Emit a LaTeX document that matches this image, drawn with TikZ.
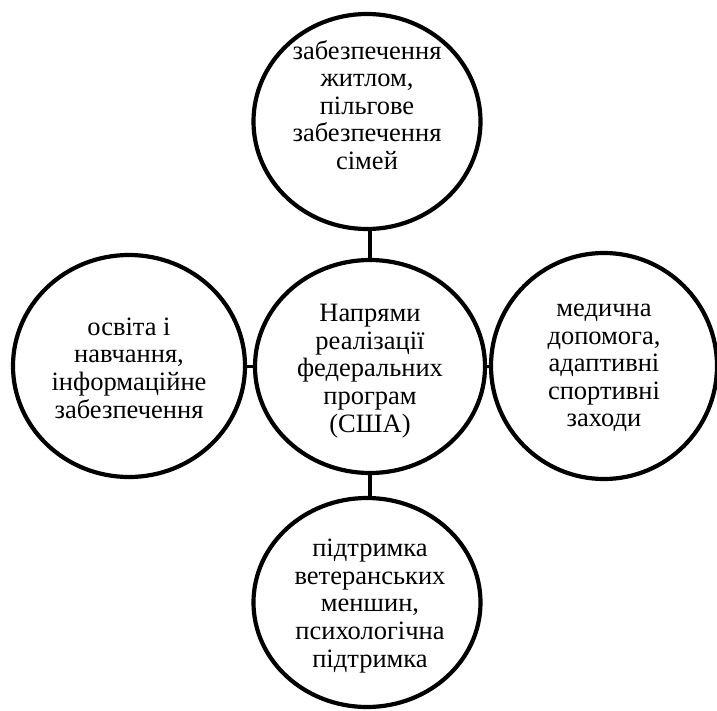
\documentclass[tikz,border=0pt]{standalone}
\usepackage{fontspec}
\setmainfont{Liberation Serif}
\usetikzlibrary{shapes.geometric}
\begin{document}
\begin{tikzpicture}[x=1pt,y=-1pt,
  bubble/.style={ellipse,draw=black,line width=4.2pt,inner sep=0pt},
  btext/.style={align=center,font=\fontsize{26.5}{27.6}\selectfont,inner sep=0pt},
  link/.style={line width=3.4pt}]
\useasboundingbox (0,0) rectangle (717,711);
\node[bubble,minimum width=227pt,minimum height=215pt] (top) at (367,121.5) {};
\node[bubble,minimum width=230pt,minimum height=213pt] (ctr) at (370,366.5) {};
\node[bubble,minimum width=232pt,minimum height=222pt] (lft) at (129,366) {};
\node[bubble,minimum width=226pt,minimum height=226pt] (rgt) at (604,366) {};
\node[bubble,minimum width=227pt,minimum height=209pt] (bot) at (367,602.5) {};
\node[btext] (ttop) at (367,105) {забезпечення\\житлом,\\пільгове\\забезпечення\\сімей};
\node[btext] (tctr) at (370,371) {Напрями\\реалізації\\федеральних\\програм\\(США)};
\node[btext] (tlft) at (129,368) {освіта і\\навчання,\\інформаційне\\забезпечення};
\node[btext] (trgt) at (604,368) {медична\\допомога,\\адаптивні\\спортивні\\заходи};
\node[btext] (tbot) at (370,606) {підтримка\\ветеранських\\меншин,\\психологічна\\підтримка};
\draw[link] (ctr.north) -- (ctr.north |- top.south);
\draw[link] (ctr.south) -- (ctr.south |- bot.north);
\draw[link] (ctr.west) -- (ctr.west -| lft.east);
\draw[link] (ctr.east) -- (ctr.east -| rgt.west);
\end{tikzpicture}
\end{document}
